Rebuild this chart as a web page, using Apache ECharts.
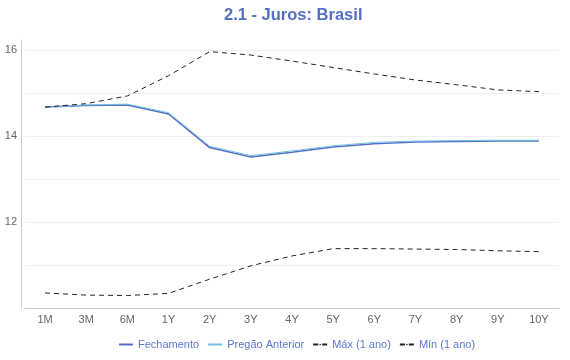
<!DOCTYPE html>
<html><head><meta charset="utf-8">
<script src="https://cdn.jsdelivr.net/npm/echarts@6/dist/echarts.min.js"></script>
<style>html,body{margin:0;padding:0;background:#fff}#c{width:570px;height:360px}</style>
</head><body><div id="c"></div>
<script>
var categories = ['1M','3M','6M','1Y','2Y','3Y','4Y','5Y','6Y','7Y','8Y','9Y','10Y'];
var fechamento = [14.67,14.71,14.72,14.51,13.73,13.51,13.62,13.74,13.82,13.86,13.87,13.88,13.88];
var pregaoAnterior = [14.67,14.72,14.74,14.54,13.76,13.54,13.65,13.77,13.85,13.88,13.89,13.90,13.90];
var maximo = [14.67,14.75,14.93,15.40,15.96,15.88,15.74,15.59,15.44,15.30,15.19,15.07,15.03];
var minimo = [10.35,10.30,10.29,10.34,10.67,10.98,11.21,11.38,11.38,11.37,11.36,11.33,11.31];
var yLabels = [12,14,16];

var chart = echarts.init(document.getElementById('c'));
var font = 'Liberation Sans, Arial, sans-serif';
chart.setOption({
  animation:false,
  title:{text:'2.1 - Juros: Brasil',left:219,top:2,textStyle:{color:'#5470c6',fontSize:16.5,fontWeight:'bold',fontFamily:font}},
  legend:{bottom:5,left:113,itemWidth:14,itemHeight:2,itemGap:8,textStyle:{color:'#5b78d0',fontSize:11,fontFamily:font},
    data:['Fechamento','Pregão Anterior','Máx (1 ano)','Mín (1 ano)']},
  grid:{left:24.5,right:10.5,top:40,bottom:52,containLabel:false},
  xAxis:{type:'category',data:categories,boundaryGap:true,
    axisLine:{lineStyle:{color:'#ccc'}},axisTick:{show:false},
    axisLabel:{color:'#666',fontSize:11,margin:6,fontFamily:font,interval:0}},
  yAxis:{type:'value',min:10,max:16.23,interval:1,offset:3.5,
    axisLine:{show:true,lineStyle:{color:'#ccc'}},axisTick:{show:false},
    splitLine:{showMaxLine:false,showMinLine:false,lineStyle:{color:'#efefef'}},
    axisLabel:{color:'#666',fontSize:11,margin:4,fontFamily:font,showMaxLabel:false,
      formatter:function(v){return yLabels.indexOf(v)>=0?String(v):'';}}},
  series:[
    {name:'Fechamento',type:'line',data:fechamento,symbol:'none',lineStyle:{color:'#5470c6',width:1.5},itemStyle:{color:'#5470c6'},z:2},
    {name:'Pregão Anterior',type:'line',data:pregaoAnterior,symbol:'none',lineStyle:{color:'#73c0de',width:1},itemStyle:{color:'#73c0de'},z:3},
    {name:'Máx (1 ano)',type:'line',data:maximo,symbol:'none',lineStyle:{color:'#222',width:1,type:[5,4]},itemStyle:{color:'#222'}},
    {name:'Mín (1 ano)',type:'line',data:minimo,symbol:'none',lineStyle:{color:'#222',width:1,type:[5,4]},itemStyle:{color:'#222'}}
  ]
});
</script></body></html>
